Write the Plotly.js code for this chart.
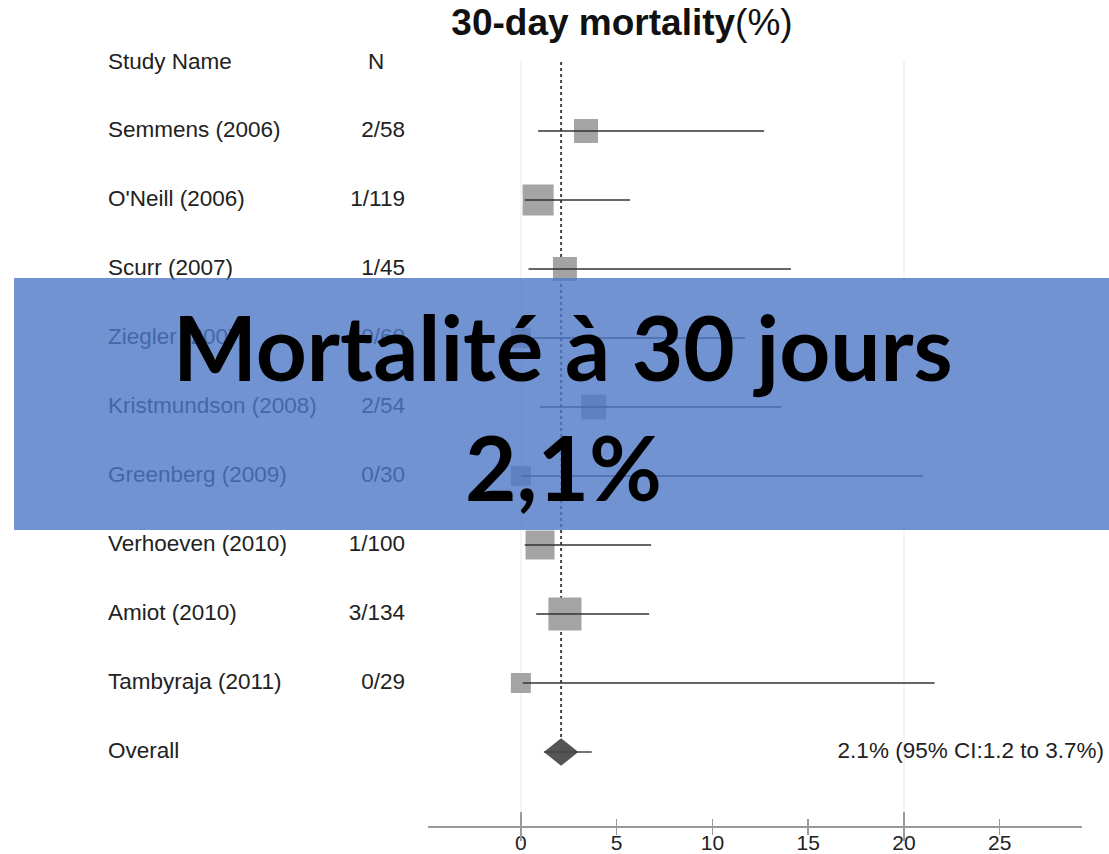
<!DOCTYPE html>
<html>
<head>
<meta charset="utf-8">
<script src="https://cdn.plot.ly/plotly-3.0.1.min.js"></script>
<style>html,body{margin:0;padding:0;background:#fff;}#chart{width:1109px;height:854px;}</style>
</head>
<body>
<div id="chart"></div>
<script>
// ---- data ----
const studies = ["Semmens (2006)", "O'Neill (2006)", "Scurr (2007)", "Ziegler (2007)", "Kristmundson (2008)", "Greenberg (2009)", "Verhoeven (2010)", "Amiot (2010)", "Tambyraja (2011)"];
const nLabels = ["2/58", "1/119", "1/45", "0/60", "2/54", "0/30", "1/100", "3/134", "0/29"];
const estimates = [3.4, 0.9, 2.3, 0.0, 3.8, 0.0, 1.0, 2.3, 0.0];
const lowerCI = [0.9, 0.2, 0.4, 0.1, 1.0, 0.0, 0.2, 0.8, 0.1];
const upperCI = [12.7, 5.7, 14.1, 11.7, 13.6, 21.0, 6.8, 6.7, 21.6];
const weights = [9.8, 16.4, 9.8, 6.8, 10.7, 6.8, 14.3, 18.6, 6.8];
const pooledEst = 2.1;
const pooledLo = 1.2;
const pooledHi = 3.7;
const tickVals = [0, 5, 10, 15, 20, 25];
const tickText = ["0", "5", "10", "15", "20", "25"];
const titleText = "<b>30-day mortality</b>(%)";
const bannerLine1 = "Mortalité à 30 jours";
const bannerLine2 = "2,1%";

// ---- geometry helpers (page pixels) ----
const W = 1109, H = 854;
const plotTop = 60, plotBottom = 826;
const axisLeftPx = 428, axisRightPx = 1082;
const rowTopPx = 131, rowStep = 69;
const pxToRow = p => (p - rowTopPx) / rowStep;
const pxToPaperY = p => (plotBottom - p) / (plotBottom - plotTop);
const yRange = [pxToRow(plotBottom), pxToRow(plotTop)];
const xRange = [-4.85, 29.3];

const rows = studies.map((_, i) => i);
const overallRow = studies.length;
const sizeOf = w => 7.66 * Math.sqrt(w);

const textFont = {family: "Liberation Sans, Arial, sans-serif", size: 22.5, color: "#222"};

// CI segments
const ciX = [], ciY = [];
rows.forEach(i => { ciX.push(lowerCI[i], upperCI[i], null); ciY.push(i, i, null); });

// diamond (symmetric about the pooled estimate)
const half = pooledEst - pooledLo;
const dh = 0.2;

const traces = [
  { // reference dotted line at pooled estimate
    x: [pooledEst, pooledEst], y: [pxToRow(62), overallRow],
    mode: "lines", line: {color: "#444", width: 2, dash: "dot"},
    xaxis: "x", yaxis: "y", hoverinfo: "skip"
  },
  { // study squares
    x: estimates, y: rows, mode: "markers", opacity: 1,
    marker: {symbol: "square", size: weights.map(sizeOf), color: "#a4a4a4", opacity: 1, line: {width: 0}},
    xaxis: "x", yaxis: "y", hoverinfo: "skip"
  },
  { // CI lines
    x: ciX, y: ciY, mode: "lines", line: {color: "#333", width: 1.5},
    xaxis: "x", yaxis: "y", hoverinfo: "skip", connectgaps: false
  },
  { // pooled diamond
    x: [pooledEst - half, pooledEst, pooledEst + half, pooledEst, pooledEst - half],
    y: [overallRow, overallRow - dh, overallRow, overallRow + dh, overallRow],
    mode: "lines", fill: "toself", fillcolor: "#555", line: {width: 0, color: "#555"},
    xaxis: "x", yaxis: "y", hoverinfo: "skip"
  },
  { // pooled CI whisker
    x: [pooledLo, pooledHi], y: [overallRow, overallRow],
    mode: "lines", line: {color: "#444", width: 1.5},
    xaxis: "x", yaxis: "y", hoverinfo: "skip"
  },
  // empty traces so the overlay tick axes exist
  {x: [null], y: [null], xaxis: "x3", yaxis: "y", mode: "markers", hoverinfo: "skip"},
  {x: [null], y: [null], xaxis: "x4", yaxis: "y", mode: "markers", hoverinfo: "skip"},
  {x: [null], y: [null], xaxis: "x5", yaxis: "y", mode: "markers", hoverinfo: "skip"},
  { // study names + Overall
    x: rows.map(() => 108).concat([108]), y: rows.concat([overallRow]),
    text: studies.concat(["Overall"]), mode: "text", textposition: "middle right",
    textfont: textFont, xaxis: "x2", yaxis: "y2", cliponaxis: false, hoverinfo: "skip"
  },
  { // N labels
    x: rows.map(() => 405), y: rows, text: nLabels, mode: "text", textposition: "middle left",
    textfont: textFont, xaxis: "x2", yaxis: "y2", cliponaxis: false, hoverinfo: "skip"
  },
  { // headers
    x: [108, 368], y: [pxToRow(63), pxToRow(63)], text: ["Study Name", "N"],
    mode: "text", textposition: "middle right",
    textfont: textFont, xaxis: "x2", yaxis: "y2", cliponaxis: false, hoverinfo: "skip"
  },
  { // overall estimate text
    x: [1104], y: [overallRow],
    text: [pooledEst + "% (95% CI:" + pooledLo + " to " + pooledHi + "%)"],
    mode: "text", textposition: "middle left",
    textfont: textFont, xaxis: "x2", yaxis: "y2", cliponaxis: false, hoverinfo: "skip"
  }
];

const axisColor = "#9a9a9a";
const overlayAxis = (vals, ticks, len, grid) => ({
  overlaying: "x", anchor: "y", range: xRange, tickmode: "array", tickvals: vals,
  ticks: ticks, ticklen: len, tickwidth: 1.5, tickcolor: axisColor,
  showticklabels: false, showline: false, zeroline: false,
  showgrid: !!grid, gridcolor: "#f4f4f4", gridwidth: 2, fixedrange: true
});

const layout = {
  width: W, height: H,
  margin: {l: 0, r: 0, t: plotTop, b: H - plotBottom, pad: 0},
  paper_bgcolor: "#fff", plot_bgcolor: "rgba(0,0,0,0)",
  showlegend: false, hovermode: false,
  title: {
    text: titleText, x: 622 / W, xanchor: "center", y: 1 - 22 / H, yanchor: "middle",
    xref: "container", yref: "container",
    font: {family: "Liberation Sans, Arial, sans-serif", size: 37, color: "#111"}
  },
  xaxis: {
    domain: [axisLeftPx / W, axisRightPx / W], range: xRange, anchor: "y",
    tickmode: "array", tickvals: tickVals, ticktext: tickText,
    ticks: "outside", ticklen: 7, tickwidth: 1.5, tickcolor: axisColor,
    ticklabelstandoff: -10,
    showline: true, linecolor: axisColor, linewidth: 1.5,
    showgrid: false, zeroline: false,
    tickfont: {family: "Liberation Sans, Arial, sans-serif", size: 21, color: "#222"},
    fixedrange: true
  },
  xaxis3: overlayAxis(tickVals, "inside", 7, false),
  xaxis4: overlayAxis([0, 20], "outside", 14, true),
  xaxis5: overlayAxis([0, 20], "inside", 14, false),
  yaxis: {range: yRange, visible: false, fixedrange: true, domain: [0, 1]},
  xaxis2: {domain: [0, 1], range: [0, W], visible: false, anchor: "y2", fixedrange: true},
  yaxis2: {domain: [0, 1], range: yRange, visible: false, anchor: "x2", fixedrange: true},
  shapes: [{
    type: "rect", layer: "above", xref: "x2", yref: "paper",
    x0: 14, x1: W, y0: pxToPaperY(530), y1: pxToPaperY(278),
    fillcolor: "rgba(78,120,199,0.8)", line: {width: 0}
  }],
  annotations: [
    {text: "<b>" + bannerLine1 + "</b>", xref: "x2", yref: "paper", x: 563, y: pxToPaperY(346),
     xanchor: "center", yanchor: "middle", showarrow: false,
     font: {family: "Lato, sans-serif", size: 89, color: "#000"}},
    {text: "<b>" + bannerLine2 + "</b>", xref: "x2", yref: "paper", x: 563, y: pxToPaperY(467),
     xanchor: "center", yanchor: "middle", showarrow: false,
     font: {family: "Lato, sans-serif", size: 89, color: "#000"}}
  ]
};

Plotly.newPlot("chart", traces, layout, {staticPlot: true, displayModeBar: false});
</script>
</body>
</html>
